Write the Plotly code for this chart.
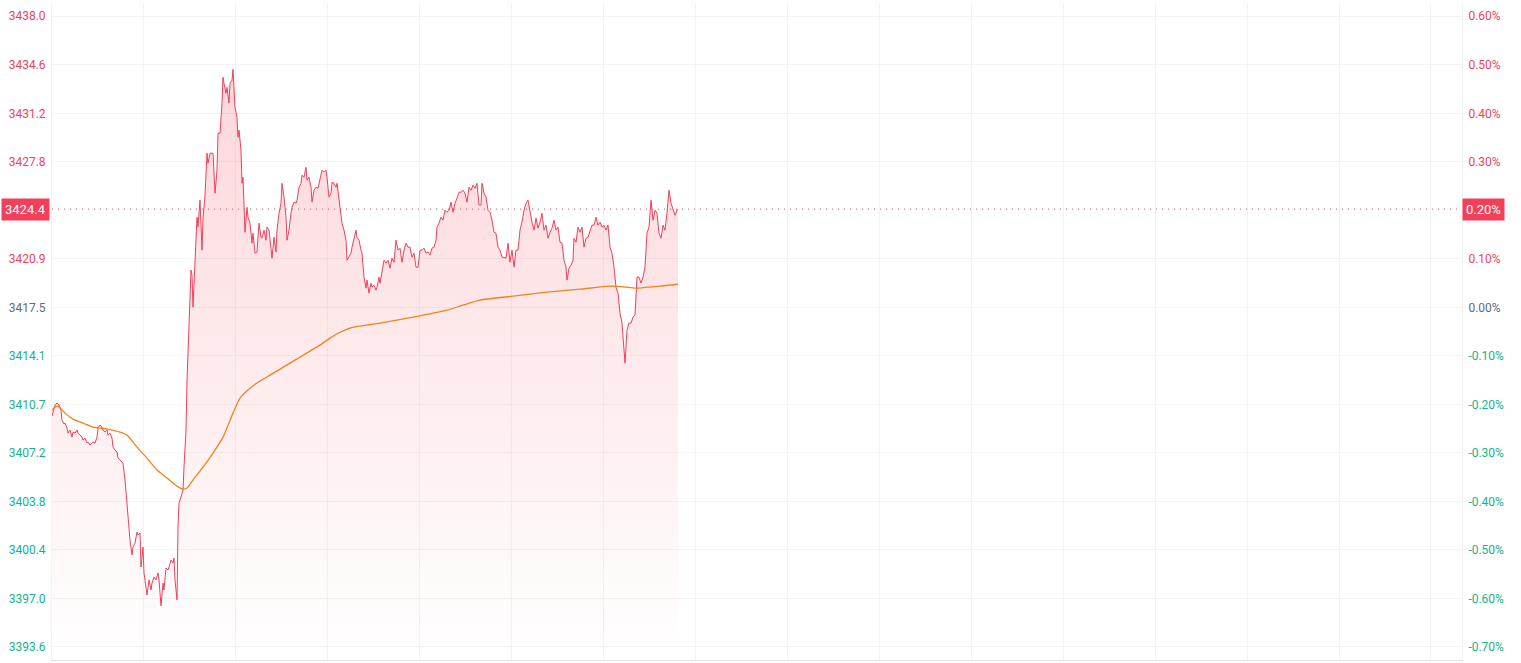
import plotly.graph_objects as go

# ---------------- data ----------------
prev_close = 3417.48
last_price = 3424.40
session_slots = 1410  # time slots in the full session (x axis length)

price_slot = [0,3,5,7,9,10,12,13,15,16,18,20,21,23,25,26,28,30,31,33,35,36,38,40,41,43,45,46,48,50,
 51,53,55,56,58,60,61,63,65,66,68,70,71,73,75,76,78,80,81,83,85,86,88,89,91,92,94,95,97,99,
 100,102,104,106,107,109,111,112,114,116,117,119,121,122,123,125,126,127,129,131,132,134,135,137,138,139,140,141,143,145,
 146,148,150,151,153,155,156,158,160,161,163,165,166,168,170,171,172,174,175,177,178,180,181,182,183,185,186,187,189,190,
 191,193,195,196,198,200,201,203,205,207,209,210,212,214,215,217,219,220,222,224,225,227,229,230,232,234,235,237,239,240,
 242,244,245,247,249,250,252,254,255,257,259,260,262,264,266,267,269,270,272,274,275,277,279,280,282,284,285,287,289,290,
 292,294,295,297,299,300,302,304,305,307,309,310,312,314,315,317,319,320,322,324,325,327,328,330,332,334,336,338,340,342,
 344,346,348,350,352,354,356,358,360,362,364,366,368,370,372,374,376,378,380,382,384,385,387,389,391,393,395,397,399,401,
 403,405,407,409,411,413,415,417,419,421,423,425,427,429,430,432,434,436,438,440,442,444,446,448,450,452,454,456,458,460,
 462,464,466,468,470,472,474,476,478,480,482,484,486,488,490,492,494,496,498,500,502,504,506,508,510,512,514,515,517,519,
 521,522,524,526,528,530,532,534,536,538,540,542,544,546,548,550,552,554,556,558,560,562,564,566,568,570,572,573,575,577,
 579,581,583,585,587,589,591,593,595,597,599,601,603,605,607,609,611,613,615,617,619,621,623,625,626]

price = [3409.82,3410.60,3410.74,3410.60,3410.24,3409.54,3409.26,3409.33,3408.98,3408.62,3408.84,3408.34,3408.69,3408.62,3408.84,3408.62,3408.48,3408.34,3408.13,3408.27,3407.92,3407.99,3407.78,3407.92,3407.99,3407.92,3408.34,3408.98,3409.19,3409.05,
 3408.84,3408.69,3408.84,3408.48,3408.62,3408.27,3407.64,3407.43,3407.29,3406.86,3406.72,3406.58,3406.51,3405.32,3403.41,3402.29,3401.09,3400.04,3400.60,3400.88,3401.65,3401.44,3401.58,3399.19,3400.60,3398.77,3397.78,3397.22,3398.28,3397.57,
 3398.06,3398.49,3398.28,3398.77,3398.28,3396.45,3398.06,3397.57,3399.12,3398.98,3399.19,3399.68,3399.47,3399.82,3398.28,3396.87,3402.01,3403.70,3404.12,3404.61,3406.23,3408.84,3412.36,3417.28,3418.13,3420.10,3419.75,3417.49,3420.45,3423.83,
 3423.13,3425.03,3421.51,3423.76,3425.38,3428.34,3427.63,3428.34,3428.34,3428.34,3425.52,3427.14,3429.74,3429.74,3431.86,3433.69,3433.26,3432.56,3432.98,3431.86,3433.26,3433.48,3434.25,3433.26,3431.57,3430.87,3429.46,3429.96,3428.55,3426.22,
 3426.65,3422.77,3424.53,3423.83,3423.41,3422.00,3422.70,3421.30,3421.37,3423.41,3422.42,3422.35,3422.92,3422.21,3423.13,3422.92,3421.72,3420.94,3422.42,3421.37,3422.92,3424.11,3424.82,3426.22,3425.24,3423.83,3422.21,3422.92,3424.11,3424.53,
 3424.89,3424.82,3425.03,3425.94,3426.22,3426.79,3426.65,3427.35,3426.44,3426.65,3425.94,3424.89,3425.73,3425.94,3425.87,3426.22,3426.93,3427.14,3427.00,3427.14,3426.65,3425.24,3425.52,3426.29,3426.22,3425.94,3426.22,3425.03,3423.62,3423.41,
 3422.92,3422.21,3420.80,3421.01,3421.30,3421.72,3422.42,3422.92,3422.42,3422.21,3421.51,3421.30,3419.61,3418.83,3419.40,3418.48,3419.18,3418.90,3419.04,3418.69,3418.90,3419.61,3419.18,3420.10,3420.80,3420.59,3420.80,3420.24,3420.94,3420.66,
 3422.21,3421.51,3421.65,3420.66,3421.51,3422.00,3421.72,3421.72,3421.01,3421.30,3420.31,3420.31,3421.51,3421.51,3421.65,3421.30,3421.37,3421.16,3421.65,3421.72,3422.21,3423.13,3423.41,3423.83,3423.62,3424.32,3424.18,3424.32,3424.89,3424.18,
 3424.82,3425.17,3425.59,3425.59,3425.73,3425.52,3424.89,3425.94,3425.73,3426.08,3425.87,3426.22,3424.68,3424.68,3426.22,3425.52,3425.24,3424.32,3424.18,3423.62,3422.77,3422.70,3421.72,3421.51,3421.01,3421.01,3420.94,3422.00,3420.66,3421.51,
 3420.31,3421.51,3421.51,3422.92,3423.48,3424.32,3424.82,3425.03,3424.11,3423.48,3422.92,3423.76,3423.06,3423.48,3424.11,3422.92,3423.27,3422.35,3422.77,3423.06,3423.62,3422.92,3423.13,3422.07,3422.00,3420.80,3420.31,3419.40,3420.24,3420.45,
 3420.80,3422.35,3422.07,3423.13,3422.77,3423.13,3421.72,3422.35,3422.42,3422.92,3423.27,3423.27,3423.83,3423.27,3423.48,3423.13,3423.27,3422.92,3423.27,3421.72,3421.30,3420.31,3418.90,3418.48,3417.07,3416.37,3414.68,3413.55,3415.88,3416.37,
 3416.37,3416.79,3416.93,3419.61,3419.61,3419.18,3419.61,3420.31,3422.70,3423.13,3425.03,3423.62,3424.32,3424.11,3422.70,3422.35,3423.27,3422.92,3424.11,3425.73,3424.82,3424.46,3423.97,3424.32,3424.40]

avg_slot = [0,3,6,13,21,31,41,55,68,75,85,95,105,115,125,131,135,141,151,161,171,181,188,198,208,218,228,238,248,258,
 268,278,288,298,308,328,361,395,411,428,461,495,528,558,575,585,595,608,626]
avg_price = [3410.24,3410.45,3410.52,3410.03,3409.61,3409.33,3409.05,3408.91,3408.69,3408.48,3407.64,3406.86,3406.02,3405.46,3404.89,3404.68,3404.75,3405.32,3406.23,3407.22,3408.34,3410.03,3411.09,3411.79,3412.29,3412.71,3413.13,3413.55,3413.97,3414.40,
 3414.82,3415.31,3415.73,3416.02,3416.16,3416.37,3416.79,3417.28,3417.64,3417.99,3418.27,3418.55,3418.76,3418.97,3418.90,3418.83,3418.90,3418.97,3419.11]

pct_ticks = [-0.7,-0.6,-0.5,-0.4,-0.3,-0.2,-0.1,0.0,0.1,0.3,0.4,0.5,0.6]
left_labels = ["3393.6","3397.0","3400.4","3403.8","3407.2","3410.7","3414.1","3417.5","3420.9","3427.8","3431.2","3434.6","3438.0"]
right_labels = ["-0.70%","-0.60%","-0.50%","-0.40%","-0.30%","-0.20%","-0.10%","0.00%","0.10%","0.30%","0.40%","0.50%","0.60%"]
last_label = "3424.4"
last_pct_label = "0.20%"

# ---------------- style ----------------
RED = "#F23F5A"
GREEN = "#14B38A"
NEUTRAL = "#5D6B82"
ORANGE = "#F5811F"
GRID = "#F3F3F5"
FONT = "Roboto"

y_lo, y_hi = 3392.64, 3438.92
y2_lo = (y_lo / prev_close - 1) * 100
y2_hi = (y_hi / prev_close - 1) * 100

def colored(lbl, p):
    c = RED if p > 0 else (GREEN if p < 0 else NEUTRAL)
    return f'<span style="color:{c}">{lbl}</span>'

tick_prices = [prev_close * (1 + p / 100) for p in pct_ticks]

fig = go.Figure()

fig.add_trace(go.Scatter(
    x=price_slot, y=price, mode="lines",
    line=dict(color=RED, width=1),
    fill="tozeroy",
    fillgradient=dict(type="vertical", start=y_lo, stop=max(price),
                      colorscale=[[0, "rgba(242,54,69,0.0)"], [1, "rgba(242,54,69,0.20)"]]),
    hoverinfo="skip", showlegend=False,
))
fig.add_trace(go.Scatter(
    x=avg_slot, y=avg_price, mode="lines",
    line=dict(color=ORANGE, width=1.3, shape="spline", smoothing=0.6),
    hoverinfo="skip", showlegend=False,
))
# invisible trace to activate right axis
fig.add_trace(go.Scatter(x=[0], y=[0], yaxis="y2", mode="markers",
                         marker=dict(opacity=0), hoverinfo="skip", showlegend=False))

fig.add_shape(type="line", xref="paper", x0=0, x1=1, yref="y", y0=last_price, y1=last_price,
              line=dict(color=RED, width=1, dash="1px,5px"), layer="above")

fig.add_annotation(xref="paper", x=0, xanchor="right", xshift=-2, yref="y", y=last_price,
                   text=last_label, showarrow=False, bgcolor=RED,
                   font=dict(color="white", size=13, family=FONT), borderpad=3)
fig.add_annotation(xref="paper", x=1, xanchor="left", xshift=0, yref="y", y=last_price,
                   text=last_pct_label, showarrow=False, bgcolor=RED,
                   font=dict(color="white", size=13, family=FONT), borderpad=3)

fig.update_layout(
    width=1521, height=663,
    margin=dict(l=52, r=59, t=3, b=3, autoexpand=False),
    paper_bgcolor="white", plot_bgcolor="white",
    font=dict(family=FONT, size=12),
    xaxis=dict(range=[0, session_slots], showticklabels=False, tick0=0, dtick=91.93,
               showgrid=True, gridcolor=GRID, gridwidth=1, zeroline=False, automargin=False,
               showline=True, linecolor="#E3E3E6", linewidth=1, ticks=""),
    yaxis=dict(range=[y_lo, y_hi], tickmode="array", tickvals=tick_prices,
               ticktext=[colored(l, p) for l, p in zip(left_labels, pct_ticks)],
               showgrid=True, gridcolor=GRID, gridwidth=1, zeroline=False, automargin=False,
               showline=True, linecolor=GRID, ticks="", ticklabelstandoff=3,
               tickfont=dict(size=12, family=FONT)),
    yaxis2=dict(range=[y2_lo, y2_hi], overlaying="y", side="right", tickmode="array",
                tickvals=pct_ticks, automargin=False,
                ticktext=[colored(l, p) for l, p in zip(right_labels, pct_ticks)],
                showgrid=False, zeroline=False, showline=True, linecolor=GRID, ticks="",
                ticklabelstandoff=3, tickfont=dict(size=12, family=FONT)),
)

fig.write_html("out.html", config={"displayModeBar": False},
               post_script="document.body.style.margin='0';document.body.style.padding='0';")
